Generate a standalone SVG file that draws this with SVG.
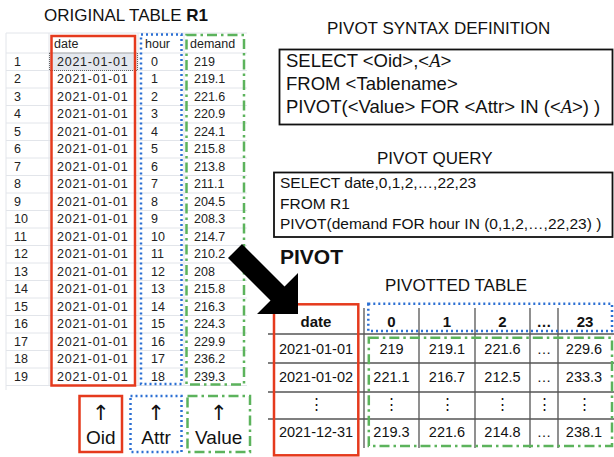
<svg xmlns="http://www.w3.org/2000/svg" width="614" height="457" viewBox="0 0 614 457">
  <style>
    text { font-family: "Liberation Sans", Arial, sans-serif; fill: #111; }
    .title { font-size: 17px; }
    .grid-light { stroke: #e2e5ea; stroke-width: 1; fill: none; }
    .cell { font-size: 12.5px; fill: #222; }
    .d { letter-spacing: 0.75px; }
    .oid { fill: none; stroke: #e53a1d; stroke-width: 2.5; }
    .attr { fill: none; stroke: #2b6fd3; stroke-width: 2.5; stroke-dasharray: 2 3; }
    .val { fill: none; stroke: #5cb35c; stroke-width: 2.5; stroke-dasharray: 10 4 2.5 4; }
    .box { fill: none; stroke: #111; stroke-width: 1.8; }
    .code { font-size: 18.5px; }
    .query { font-size: 15.5px; }
    .pgrid { stroke: #555; stroke-width: 1.3; fill: none; }
    .pc { font-size: 14.5px; text-anchor: middle; }
    .ph { font-size: 15px; font-weight: bold; text-anchor: middle; }
    .lbl { font-size: 19px; text-anchor: middle; }
    .up { font-family: "DejaVu Sans", sans-serif; font-size: 21px; text-anchor: middle; }
  </style>

  <!-- source table R1 -->
  <g id="title-original">
    <text class="title" x="44" y="21">ORIGINAL TABLE <tspan font-weight="bold">R1</tspan></text>
  </g>

  <g id="table-r1">
    <!-- grid -->
    <path class="grid-light" d="M6,33 H247 M6,33 V390 M49,33 V386 M138,33 V386 M184,33 V386
      M6,53 H247 M6,70.5 H247 M6,88 H247 M6,105.5 H247 M6,123 H247 M6,140.5 H247 M6,158 H247
      M6,175.5 H247 M6,193 H247 M6,210.5 H247 M6,228 H247 M6,245.5 H247 M6,263 H247 M6,280.5 H247
      M6,298 H247 M6,315.5 H247 M6,333 H247 M6,350.5 H247 M6,368 H247 M6,385.5 H247"/>
    <!-- selected cell -->
    <rect x="49.5" y="53" width="88" height="17.5" fill="#e4e8ee" stroke="#666" stroke-width="1" stroke-dasharray="1 1"/>
    <!-- header -->
    <text class="cell" x="54" y="47.5">date</text>
    <text class="cell" x="145" y="47.5">hour</text>
    <text class="cell" x="190" y="47.5">demand</text>
    <!-- rows -->
    <g transform="translate(0,65.5)"><text class="cell" x="14">1</text><text class="cell d" x="57">2021-01-01</text><text class="cell" x="151">0</text><text class="cell" x="194">219</text></g>
    <g transform="translate(0,83)"><text class="cell" x="14">2</text><text class="cell d" x="57">2021-01-01</text><text class="cell" x="151">1</text><text class="cell" x="194">219.1</text></g>
    <g transform="translate(0,100.5)"><text class="cell" x="14">3</text><text class="cell d" x="57">2021-01-01</text><text class="cell" x="151">2</text><text class="cell" x="194">221.6</text></g>
    <g transform="translate(0,118)"><text class="cell" x="14">4</text><text class="cell d" x="57">2021-01-01</text><text class="cell" x="151">3</text><text class="cell" x="194">220.9</text></g>
    <g transform="translate(0,135.5)"><text class="cell" x="14">5</text><text class="cell d" x="57">2021-01-01</text><text class="cell" x="151">4</text><text class="cell" x="194">224.1</text></g>
    <g transform="translate(0,153)"><text class="cell" x="14">6</text><text class="cell d" x="57">2021-01-01</text><text class="cell" x="151">5</text><text class="cell" x="194">215.8</text></g>
    <g transform="translate(0,170.5)"><text class="cell" x="14">7</text><text class="cell d" x="57">2021-01-01</text><text class="cell" x="151">6</text><text class="cell" x="194">213.8</text></g>
    <g transform="translate(0,188)"><text class="cell" x="14">8</text><text class="cell d" x="57">2021-01-01</text><text class="cell" x="151">7</text><text class="cell" x="194">211.1</text></g>
    <g transform="translate(0,205.5)"><text class="cell" x="14">9</text><text class="cell d" x="57">2021-01-01</text><text class="cell" x="151">8</text><text class="cell" x="194">204.5</text></g>
    <g transform="translate(0,223)"><text class="cell" x="14">10</text><text class="cell d" x="57">2021-01-01</text><text class="cell" x="151">9</text><text class="cell" x="194">208.3</text></g>
    <g transform="translate(0,240.5)"><text class="cell" x="14">11</text><text class="cell d" x="57">2021-01-01</text><text class="cell" x="151">10</text><text class="cell" x="194">214.7</text></g>
    <g transform="translate(0,258)"><text class="cell" x="14">12</text><text class="cell d" x="57">2021-01-01</text><text class="cell" x="151">11</text><text class="cell" x="194">210.2</text></g>
    <g transform="translate(0,275.5)"><text class="cell" x="14">13</text><text class="cell d" x="57">2021-01-01</text><text class="cell" x="151">12</text><text class="cell" x="194">208</text></g>
    <g transform="translate(0,293)"><text class="cell" x="14">14</text><text class="cell d" x="57">2021-01-01</text><text class="cell" x="151">13</text><text class="cell" x="194">215.8</text></g>
    <g transform="translate(0,310.5)"><text class="cell" x="14">15</text><text class="cell d" x="57">2021-01-01</text><text class="cell" x="151">14</text><text class="cell" x="194">216.3</text></g>
    <g transform="translate(0,328)"><text class="cell" x="14">16</text><text class="cell d" x="57">2021-01-01</text><text class="cell" x="151">15</text><text class="cell" x="194">224.3</text></g>
    <g transform="translate(0,345.5)"><text class="cell" x="14">17</text><text class="cell d" x="57">2021-01-01</text><text class="cell" x="151">16</text><text class="cell" x="194">229.9</text></g>
    <g transform="translate(0,363)"><text class="cell" x="14">18</text><text class="cell d" x="57">2021-01-01</text><text class="cell" x="151">17</text><text class="cell" x="194">236.2</text></g>
    <g transform="translate(0,380.5)"><text class="cell" x="14">19</text><text class="cell d" x="57">2021-01-01</text><text class="cell" x="151">18</text><text class="cell" x="194">239.3</text></g>
    <!-- column role frames -->
    <rect class="oid" x="51.5" y="36" width="83.5" height="349.5"/>
    <rect class="attr" x="141" y="34.5" width="40.5" height="349.5"/>
    <rect class="val" x="186.5" y="35" width="57.5" height="349.5"/>
  </g>

  <!-- role legend -->
  <g id="label-oid">
    <rect class="oid" x="79.5" y="396" width="42.5" height="56"/>
    <text class="up" x="100.7" y="420">↑</text>
    <text class="lbl" x="100.7" y="444">Oid</text>
  </g>
  <g id="label-attr">
    <rect class="attr" x="130.5" y="396" width="51" height="56"/>
    <text class="up" x="156" y="420">↑</text>
    <text class="lbl" x="156" y="444">Attr</text>
  </g>
  <g id="label-value">
    <rect class="val" x="187.5" y="396" width="62.5" height="56"/>
    <text class="up" x="218.7" y="420">↑</text>
    <text class="lbl" x="218.7" y="444">Value</text>
  </g>

  <!-- syntax definition -->
  <g id="syntax-def">
    <text class="title" x="327" y="34">PIVOT SYNTAX DEFINITION</text>
    <rect class="box" x="279.5" y="49.5" width="333" height="75"/>
    <text class="code" x="286" y="67">SELECT &lt;Oid&gt;,&lt;<tspan font-family="'Liberation Serif', serif" font-style="italic">A</tspan>&gt;</text>
    <text class="code" x="286" y="90">FROM &lt;Tablename&gt;</text>
    <text class="code" x="286" y="113">PIVOT(&lt;Value&gt; FOR &lt;Attr&gt; IN (&lt;<tspan font-family="'Liberation Serif', serif" font-style="italic">A</tspan>&gt;) )</text>
  </g>

  <!-- concrete query -->
  <g id="pivot-query">
    <text class="title" x="377" y="164">PIVOT QUERY</text>
    <rect class="box" x="274" y="172.5" width="338.5" height="64.5"/>
    <text class="query" x="280" y="188">SELECT date,0,1,2,…,22,23</text>
    <text class="query" x="280" y="209">FROM R1</text>
    <text class="query" x="280" y="229">PIVOT(demand FOR hour IN (0,1,2,…,22,23) )</text>
  </g>

  <g id="pivot-label">
    <text x="280" y="264" font-size="21" font-weight="bold">PIVOT</text>
  </g>

  <!-- result table -->
  <g id="pivot-table">
    <text class="title" x="385" y="291">PIVOTTED TABLE</text>
    <path class="pgrid" d="M268,334 H614 M268,363 H614 M268,392 H614 M268,419 H614
      M364,308 V448 M419,308 V448 M475,308 V448 M530,308 V448 M558,308 V448"/>
    <!-- header -->
    <text class="ph" x="316" y="327">date</text>
    <text class="ph" x="391.5" y="327">0</text>
    <text class="ph" x="447" y="327">1</text>
    <text class="ph" x="502.5" y="327">2</text>
    <text class="ph" x="544" y="327">…</text>
    <text class="ph" x="585" y="327">23</text>
    <!-- rows -->
    <g transform="translate(0,353.5)">
      <text class="pc" x="316">2021-01-01</text><text class="pc" x="391.5">219</text><text class="pc" x="447">219.1</text><text class="pc" x="502.5">221.6</text><text class="pc" x="544">…</text><text class="pc" x="584">229.6</text>
    </g>
    <g transform="translate(0,382)">
      <text class="pc" x="316">2021-01-02</text><text class="pc" x="391.5">221.1</text><text class="pc" x="447">216.7</text><text class="pc" x="502.5">212.5</text><text class="pc" x="544">…</text><text class="pc" x="584">233.3</text>
    </g>
    <g transform="translate(0,409)">
      <text class="pc" x="316">⋮</text><text class="pc" x="391.5">⋮</text><text class="pc" x="447">⋮</text><text class="pc" x="502.5">⋮</text><text class="pc" x="544">⋮</text><text class="pc" x="584">⋮</text>
    </g>
    <g transform="translate(0,437)">
      <text class="pc" x="316">2021-12-31</text><text class="pc" x="391.5">219.3</text><text class="pc" x="447">221.6</text><text class="pc" x="502.5">214.8</text><text class="pc" x="544">…</text><text class="pc" x="584">238.1</text>
    </g>
    <!-- role frames -->
    <rect class="oid" x="274" y="304.3" width="84.3" height="151"/>
    <rect class="attr" x="368.3" y="303.7" width="243.7" height="27.3"/>
    <rect class="val" x="368.8" y="337.7" width="243.2" height="108.3"/>
  </g>

  <!-- transformation arrow -->
  <g id="connectors">
    <polygon fill="#000" points="242,244 284.5,286.5 298,273 298,314 257,314 270.5,300.5 228,258"/>
  </g>
</svg>
